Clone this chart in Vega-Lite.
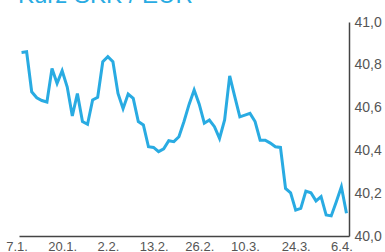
{
  "$schema": "https://vega.github.io/schema/vega-lite/v6.json",
  "autosize": "none",
  "width": 330,
  "height": 214,
  "padding": {"left": 19, "top": 22, "right": 36, "bottom": 16},
  "background": "white",
  "title": {
    "text": "Kurz SKK / EUR",
    "anchor": "start",
    "frame": "group",
    "baseline": "alphabetic",
    "offset": 0,
    "dy": 12,
    "dx": -1,
    "font": "Liberation Sans",
    "fontSize": 24,
    "fontWeight": "normal",
    "color": "#29abe2"
  },
  "config": {
    "view": {"stroke": null},
    "axis": {"labelFont": "Liberation Sans", "labelColor": "#555555", "grid": false, "ticks": false, "domainColor": "#444444", "domainWidth": 1.5}
  },
  "data": {
    "values": [
      {"d": "7.1.", "v": 40.858}, {"d": "8.1.", "v": 40.861}, {"d": "9.1.", "v": 40.674}, {"d": "12.1.", "v": 40.646},
      {"d": "13.1.", "v": 40.633}, {"d": "14.1.", "v": 40.626}, {"d": "15.1.", "v": 40.783}, {"d": "16.1.", "v": 40.713},
      {"d": "19.1.", "v": 40.772}, {"d": "20.1.", "v": 40.696}, {"d": "21.1.", "v": 40.561}, {"d": "22.1.", "v": 40.666},
      {"d": "23.1.", "v": 40.535}, {"d": "26.1.", "v": 40.522}, {"d": "27.1.", "v": 40.636}, {"d": "28.1.", "v": 40.648},
      {"d": "29.1.", "v": 40.814}, {"d": "30.1.", "v": 40.838}, {"d": "2.2.", "v": 40.814}, {"d": "3.2.", "v": 40.666},
      {"d": "4.2.", "v": 40.595}, {"d": "5.2.", "v": 40.663}, {"d": "6.2.", "v": 40.643}, {"d": "9.2.", "v": 40.535},
      {"d": "10.2.", "v": 40.519}, {"d": "11.2.", "v": 40.417}, {"d": "12.2.", "v": 40.414}, {"d": "13.2.", "v": 40.394},
      {"d": "16.2.", "v": 40.407}, {"d": "17.2.", "v": 40.445}, {"d": "18.2.", "v": 40.441}, {"d": "19.2.", "v": 40.464},
      {"d": "20.2.", "v": 40.535}, {"d": "23.2.", "v": 40.615}, {"d": "24.2.", "v": 40.682}, {"d": "25.2.", "v": 40.616},
      {"d": "26.2.", "v": 40.527}, {"d": "27.2.", "v": 40.542}, {"d": "1.3.", "v": 40.511}, {"d": "2.3.", "v": 40.456},
      {"d": "3.3.", "v": 40.542}, {"d": "4.3.", "v": 40.748}, {"d": "5.3.", "v": 40.651}, {"d": "8.3.", "v": 40.557},
      {"d": "9.3.", "v": 40.565}, {"d": "10.3.", "v": 40.573}, {"d": "11.3.", "v": 40.535}, {"d": "12.3.", "v": 40.448},
      {"d": "15.3.", "v": 40.448}, {"d": "16.3.", "v": 40.434}, {"d": "17.3.", "v": 40.417}, {"d": "18.3.", "v": 40.414},
      {"d": "19.3.", "v": 40.222}, {"d": "22.3.", "v": 40.202}, {"d": "23.3.", "v": 40.121}, {"d": "24.3.", "v": 40.129},
      {"d": "25.3.", "v": 40.21}, {"d": "26.3.", "v": 40.202}, {"d": "29.3.", "v": 40.164}, {"d": "30.3.", "v": 40.184},
      {"d": "31.3.", "v": 40.098}, {"d": "1.4.", "v": 40.094}, {"d": "2.4.", "v": 40.16}, {"d": "5.4.", "v": 40.23},
      {"d": "6.4.", "v": 40.106}
    ]
  },
  "mark": {"type": "line", "color": "#29abe2", "strokeWidth": 3, "strokeJoin": "miter"},
  "encoding": {
    "x": {
      "field": "d",
      "type": "ordinal",
      "sort": null,
      "scale": {"type": "point", "padding": 0.5},
      "axis": {
        "title": null,
        "values": ["7.1.", "20.1.", "2.2.", "13.2.", "26.2.", "10.3.", "24.3.", "6.4."],
        "labelAngle": 0,
        "labelFontSize": 13,
        "labelPadding": 4,
        "labelOffset": -5
      }
    },
    "y": {
      "field": "v",
      "type": "quantitative",
      "scale": {"domain": [40, 41], "zero": false, "nice": false},
      "axis": {
        "title": null,
        "orient": "right",
        "values": [40, 40.2, 40.4, 40.6, 40.8, 41],
        "format": ".1f",
        "labelExpr": "replace(datum.label, '.', ',')",
        "labelFontSize": 14,
        "labelPadding": 5,
        "labelBaseline": "middle"
      }
    }
  }
}
